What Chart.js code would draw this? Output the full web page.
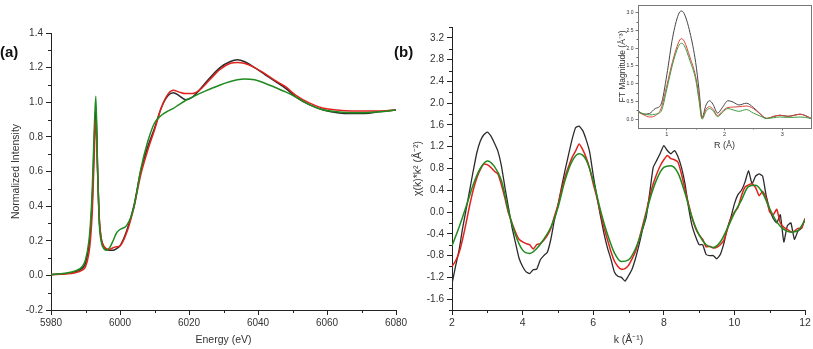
<!DOCTYPE html>
<html>
<head>
<meta charset="utf-8">
<script src="https://cdn.jsdelivr.net/npm/chart.js@4.4.1/dist/chart.umd.min.js"></script>
<style>
  body { margin: 0; background: #fff; width: 813px; height: 349px; overflow: hidden; position: relative; font-family: "Liberation Sans", Arial, sans-serif; }
  canvas { position: absolute; }
  .tag { position: absolute; font: bold 15px "Liberation Sans", Arial, sans-serif; color: #111; }
</style>
</head>
<body>
<canvas id="xanes" width="410" height="349" style="left:0;top:0"></canvas>
<canvas id="exafs" width="403" height="349" style="left:410px;top:0"></canvas>
<canvas id="ft" width="203" height="152" style="left:610px;top:0"></canvas>
<div class="tag" style="left:0;top:43px">(a)</div>
<div class="tag" style="left:394px;top:43px">(b)</div>
<script>
// ---- (a) XANES ----
var energy = [5980,5984,5987,5989,5990,5991,5991.5,5992,5992.5,5993,5993.5,5994,5994.5,5995,5996,5997,5998,5999,6000,6002,6004,6006,6008,6010,6012,6014,6015.5,6017,6019,6021,6023,6026,6029,6032,6034,6036,6039,6042,6045,6048,6051,6055,6059,6063,6067,6071,6075,6080];
var xanesBlack = [0.005,0.01,0.02,0.04,0.07,0.17,0.28,0.45,0.75,0.97,0.62,0.32,0.22,0.18,0.15,0.145,0.145,0.155,0.17,0.26,0.4,0.6,0.74,0.85,0.97,1.04,1.055,1.04,1.015,1.03,1.07,1.14,1.2,1.235,1.245,1.235,1.2,1.16,1.12,1.08,1.03,0.985,0.955,0.94,0.935,0.935,0.945,0.955];
var xanesRed = [0.005,0.008,0.015,0.03,0.05,0.13,0.22,0.38,0.68,0.9,0.6,0.33,0.22,0.18,0.155,0.15,0.16,0.165,0.17,0.25,0.39,0.58,0.72,0.84,0.97,1.05,1.07,1.06,1.05,1.05,1.07,1.13,1.19,1.225,1.23,1.225,1.2,1.165,1.125,1.09,1.04,0.995,0.965,0.955,0.95,0.95,0.95,0.955];
var xanesGreen = [0.005,0.012,0.025,0.05,0.09,0.2,0.32,0.52,0.82,1.035,0.62,0.3,0.2,0.165,0.145,0.16,0.2,0.245,0.265,0.29,0.39,0.61,0.77,0.88,0.925,0.95,0.965,0.985,1.01,1.03,1.05,1.075,1.1,1.12,1.13,1.135,1.13,1.11,1.085,1.06,1.03,0.985,0.955,0.945,0.94,0.94,0.945,0.955];
var aXTicks = [5980,6000,6020,6040,6060,6080];
var aXMinor = [5990,6010,6030,6050,6070];
var aYTicks = [-0.2,0,0.2,0.4,0.6,0.8,1.0,1.2,1.4];
var aYMinor = [-0.1,0.1,0.3,0.5,0.7,0.9,1.1,1.3];

// ---- (b) EXAFS chi(k)*k^2 ----
var kFine = [2.0,2.1,2.2,2.3,2.4,2.5,2.6,2.7,2.8,2.9,3.0,3.1,3.2,3.3,3.4,3.5,3.6,3.7,3.8,3.9,4.0,4.1,4.2,4.3,4.4,4.5,4.6,4.7,4.8,4.9,5.0,5.1,5.2,5.3,5.4,5.5,5.6,5.7,5.8,5.9,6.0,6.1,6.2,6.3,6.4,6.5,6.6,6.7,6.8,6.9,7.0,7.1,7.2,7.3,7.4,7.5,7.6,7.7,7.8,7.9,8.0,8.1,8.2,8.3,8.4,8.5,8.6,8.7,8.8,8.9,9.0,9.1,9.2,9.3,9.4,9.5,9.6,9.7,9.8,9.9,10.0,10.1,10.2,10.3,10.4,10.5,10.6,10.7,10.8,10.9,11.0,11.1,11.2,11.3,11.4,11.5,11.6,11.7,11.8,11.9,12.0];
var chiBlack = [-1.32,-1.0,-0.7,-0.3,0.05,0.4,0.75,1.08,1.3,1.42,1.47,1.4,1.27,1.12,0.85,0.45,0.08,-0.28,-0.57,-0.85,-1.0,-1.1,-1.13,-1.06,-1.05,-0.88,-0.8,-0.74,-0.5,-0.15,0.12,0.45,0.76,1.05,1.33,1.55,1.58,1.5,1.33,1.1,0.68,0.3,-0.05,-0.38,-0.65,-0.86,-1.1,-1.18,-1.2,-1.27,-1.17,-1.05,-0.85,-0.6,-0.32,-0.1,0.35,0.82,0.95,1.08,1.22,1.13,1.07,1.13,1.02,0.82,0.52,0.09,-0.25,-0.45,-0.6,-0.6,-0.78,-0.8,-0.8,-0.86,-0.78,-0.58,-0.3,-0.1,0.15,0.32,0.4,0.55,0.76,0.52,0.66,0.7,0.66,0.3,0.05,-0.12,-0.2,-0.05,-0.55,-0.25,-0.2,-0.5,-0.35,-0.3,-0.12];
var chiRed = [-1.0,-0.9,-0.75,-0.5,-0.2,0.12,0.4,0.62,0.78,0.88,0.87,0.82,0.75,0.7,0.5,0.25,-0.02,-0.2,-0.37,-0.5,-0.55,-0.58,-0.6,-0.68,-0.6,-0.58,-0.52,-0.43,-0.3,-0.08,0.12,0.4,0.64,0.83,1.0,1.12,1.25,1.15,1.0,0.8,0.52,0.28,0.0,-0.27,-0.5,-0.72,-0.9,-1.0,-1.05,-1.04,-0.98,-0.86,-0.72,-0.5,-0.25,0.0,0.28,0.52,0.7,0.85,0.96,1.04,0.98,0.96,0.92,0.7,0.42,0.15,-0.1,-0.3,-0.42,-0.5,-0.64,-0.63,-0.66,-0.65,-0.6,-0.52,-0.32,-0.12,0.0,0.08,0.3,0.46,0.5,0.52,0.45,0.3,0.38,0.26,0.0,-0.05,0.05,-0.2,-0.28,-0.32,-0.36,-0.35,-0.3,-0.3,-0.13];
var kCoarse = [2.0,2.2,2.4,2.6,2.8,3.0,3.2,3.4,3.6,3.8,4.0,4.2,4.4,4.6,4.8,5.0,5.2,5.4,5.6,5.8,6.0,6.2,6.4,6.6,6.8,7.0,7.2,7.4,7.6,7.8,8.0,8.2,8.4,8.6,8.8,9.0,9.2,9.4,9.6,9.8,10.0,10.2,10.4,10.6,10.8,11.0,11.2,11.4,11.6,11.8,12.0];
var chiGreen = [-0.62,-0.28,0.1,0.5,0.8,0.94,0.84,0.58,0.02,-0.42,-0.7,-0.76,-0.67,-0.5,-0.28,0.08,0.58,0.93,1.07,0.96,0.58,0.05,-0.4,-0.75,-0.91,-0.88,-0.67,-0.3,0.22,0.6,0.82,0.85,0.72,0.35,-0.1,-0.42,-0.6,-0.65,-0.55,-0.3,-0.02,0.22,0.47,0.49,0.35,0.06,-0.18,-0.32,-0.37,-0.34,-0.15];
var bXTicks = [2,4,6,8,10,12];
var bXMinor = [3,5,7,9,11];
var bYTicks = [-1.6,-1.2,-0.8,-0.4,0,0.4,0.8,1.2,1.6,2.0,2.4,2.8,3.2];
var bYMinor = [-1.8,-1.4,-1.0,-0.6,-0.2,0.2,0.6,1.0,1.4,1.8,2.2,2.6,3.0,3.4];

// ---- inset FT magnitude ----
var rVals = [0.5,0.6,0.7,0.8,0.9,1.0,1.1,1.2,1.25,1.3,1.4,1.5,1.56,1.61,1.68,1.74,1.8,1.88,1.96,2.06,2.15,2.25,2.38,2.5,2.6,2.73,2.85,2.96,3.1,3.2,3.31,3.4,3.5];
var ftBlack = [0.24,0.14,0.16,0.3,0.42,1.25,2.3,2.95,3.05,2.98,2.45,1.6,0.8,0.05,0.4,0.52,0.42,0.17,0.32,0.52,0.48,0.4,0.45,0.33,0.18,0.02,0.07,0.11,0.08,0.11,0.14,0.1,0.02];
var ftRed = [0.2,0.12,0.06,0.1,0.3,0.95,1.63,2.15,2.27,2.2,1.75,1.2,0.62,0.02,0.28,0.35,0.28,0.1,0.22,0.33,0.34,0.35,0.37,0.3,0.17,0.02,0.08,0.11,0.08,0.1,0.14,0.1,0.02];
var ftGreen = [0.2,0.15,0.12,0.14,0.22,0.85,1.55,2.05,2.14,2.08,1.65,1.12,0.5,0.0,0.22,0.3,0.24,0.07,0.18,0.3,0.26,0.22,0.27,0.17,0.1,0.02,0.04,0.06,0.05,0.05,0.06,0.05,0.02];
var ftXTicks = [1,2,3];
var ftYTicks = [0,0.5,1.0,1.5,2.0,2.5,3.0];

var BLACK = '#2b2b2b', RED = '#e0231c', GREEN = '#1f8a1f';
var FONT = '"Liberation Sans", Arial, sans-serif';

function pts(xs, ys) {
  return xs.map(function (x, i) { return {x: x, y: ys[i]}; });
}

// minor ticks drawn outside the axes (Chart.js has no minor ticks)
var minorTicks = {
  id: 'minorTicks',
  afterDraw: function (chart, args, opts) {
    var ctx = chart.ctx, a = chart.chartArea, sx = chart.scales.x, sy = chart.scales.y;
    ctx.save();
    ctx.strokeStyle = opts.color || '#222';
    ctx.lineWidth = 1;
    ctx.beginPath();
    (opts.x || []).forEach(function (v) {
      var px = Math.round(sx.getPixelForValue(v)) + 0.5;
      ctx.moveTo(px, a.bottom); ctx.lineTo(px, a.bottom + opts.len);
    });
    (opts.y || []).forEach(function (v) {
      var py = Math.round(sy.getPixelForValue(v)) + 0.5;
      ctx.moveTo(a.left, py); ctx.lineTo(a.left - opts.len, py);
    });
    ctx.stroke();
    if (opts.frame) {
      ctx.strokeStyle = opts.frame;
      ctx.strokeRect(Math.round(a.left) + 0.5, Math.round(a.top) + 0.5, Math.round(a.right - a.left), Math.round(a.bottom - a.top));
    }
    ctx.restore();
  }
};

function axis(opt) {
  return {
    type: 'linear',
    min: opt.min, max: opt.max,
    afterBuildTicks: function (s) { s.ticks = opt.ticks.map(function (v) { return {value: v}; }); },
    afterFit: function (s) { if (opt.width) s.width = opt.width; if (opt.height) s.height = opt.height; },
    grid: {drawOnChartArea: false, drawTicks: true, tickLength: opt.tickLen, color: opt.color},
    border: {display: true, color: opt.color, width: 1},
    ticks: {
      color: '#333', padding: opt.pad, maxRotation: 0, autoSkip: false,
      font: {family: FONT, size: opt.fs},
      callback: opt.fmt
    },
    title: {display: true, text: opt.title, color: '#333', font: {family: FONT, size: opt.tfs}, padding: opt.tpad}
  };
}

function line(data, color, width, order, smooth) {
  return {
    data: data, borderColor: color, borderWidth: width, pointRadius: 0, fill: false, order: order,
    cubicInterpolationMode: smooth ? 'monotone' : 'default', tension: smooth ? 0 : 0.15
  };
}

var one = function (v) { return v.toFixed(1); };
var whole = function (v) { return String(v); };

new Chart(document.getElementById('xanes'), {
  type: 'line',
  data: {datasets: [
    line(pts(energy, xanesBlack), BLACK, 1.5, 2, true),
    line(pts(energy, xanesRed), RED, 1.5, 1, true),
    line(pts(energy, xanesGreen), GREEN, 1.5, 0, true)
  ]},
  options: {
    responsive: false, animation: false, events: [],
    layout: {padding: {top: 33, right: 14, left: 0, bottom: 0}},
    plugins: {legend: {display: false}, tooltip: {enabled: false},
      minorTicks: {x: aXMinor, y: aYMinor, len: 3, color: '#222'}},
    scales: {
      x: axis({min: 5980, max: 6080, ticks: aXTicks, height: 39, tickLen: 5, color: '#222', pad: 2, fs: 10, fmt: whole,
        title: 'Energy (eV)', tfs: 10.5, tpad: {top: 0, bottom: 3}}),
      y: axis({min: -0.2, max: 1.4, ticks: aYTicks, width: 51, tickLen: 5, color: '#222', pad: 3, fs: 10, fmt: one,
        title: 'Normalized Intensity', tfs: 10.5, tpad: {top: 10, bottom: 0}})
    }
  },
  plugins: [minorTicks]
});

new Chart(document.getElementById('exafs'), {
  type: 'line',
  data: {datasets: [
    line(pts(kFine, chiBlack), BLACK, 1.3, 2, false),
    line(pts(kFine, chiRed), RED, 1.5, 1, false),
    line(pts(kCoarse, chiGreen), GREEN, 1.5, 0, true)
  ]},
  options: {
    responsive: false, animation: false, events: [],
    layout: {padding: {top: 27, right: 8, left: 0, bottom: 0}},
    plugins: {legend: {display: false}, tooltip: {enabled: false},
      minorTicks: {x: bXMinor, y: bYMinor, len: 3, color: '#222'}},
    scales: {
      x: axis({min: 2, max: 12, ticks: bXTicks, height: 39, tickLen: 5, color: '#222', pad: 2, fs: 10.5, fmt: whole,
        title: 'k (\u00c5\u207b\u00b9)', tfs: 10.5, tpad: {top: 0, bottom: 3}}),
      y: axis({min: -1.8, max: 3.4, ticks: bYTicks, width: 42, tickLen: 5, color: '#222', pad: 3, fs: 10, fmt: one,
        title: '\u03c7(k)*k\u00b2 (\u00c5\u207b\u00b2)', tfs: 10.5, tpad: {top: 2, bottom: 0}})
    }
  },
  plugins: [minorTicks]
});

new Chart(document.getElementById('ft'), {
  type: 'line',
  data: {datasets: [
    line(pts(rVals, ftBlack), '#444', 1, 2, true),
    line(pts(rVals, ftRed), '#d8433a', 1, 1, true),
    line(pts(rVals, ftGreen), '#3f9c3f', 1, 0, true)
  ]},
  options: {
    responsive: false, animation: false, events: [],
    layout: {padding: {top: 2, right: 2, left: 0, bottom: 0}},
    plugins: {legend: {display: false}, tooltip: {enabled: false},
      minorTicks: {x: [1.5, 2.5], y: [0.25,0.75,1.25,1.75,2.25,2.75], len: 1.5, color: '#666', frame: '#777'}},
    scales: {
      x: axis({min: 0.5, max: 3.5, ticks: ftXTicks, height: 24, tickLen: 2.5, color: '#777', pad: 1, fs: 5.5, fmt: whole,
        title: 'R (\u00c5)', tfs: 9, tpad: {top: 0, bottom: 1.5}}),
      y: axis({min: -0.25, max: 3.22, ticks: ftYTicks, width: 28, tickLen: 2.5, color: '#777', pad: 2, fs: 5, fmt: one,
        title: 'FT Magnitude (\u00c5\u207b\u00b3)', tfs: 8.5, tpad: {top: 7.5, bottom: 0}})
    }
  },
  plugins: [minorTicks]
});
</script>
</body>
</html>
